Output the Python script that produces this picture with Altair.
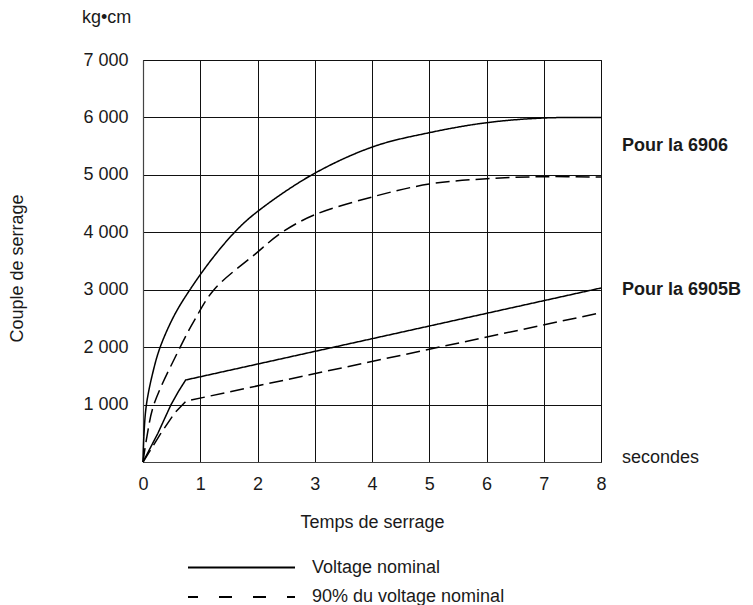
import altair as alt
import pandas as pd

# --- data ---
# Pour la 6906, voltage nominal
t_6906_nom = [0, 0.015, 0.06, 0.17, 0.30, 0.55, 0.82, 1.2, 1.6, 1.96, 2.95, 4.02, 5.0, 6.0, 7.0, 8.0]
v_6906_nom = [0, 450, 1000, 1550, 2000, 2560, 3000, 3530, 4000, 4330, 5000, 5490, 5734, 5908, 5990, 6000]
# Pour la 6906, 90% du voltage nominal
t_6906_90 = [0, 0.07, 0.19, 0.65, 0.9, 1.24, 1.96, 2.43, 2.99, 4.02, 5.0, 6.0, 7.0, 8.0]
v_6906_90 = [0, 450, 1000, 2000, 2470, 3000, 3621, 4000, 4301, 4620, 4840, 4933, 4968, 4962]
# Pour la 6905B, voltage nominal
t_6905_nom = [0, 0.26, 0.49, 0.62, 0.745, 8.0]
v_6905_nom = [0, 500, 1000, 1230, 1428, 3030]
# Pour la 6905B, 90% du voltage nominal
t_6905_90 = [0, 0.3, 0.55, 0.75, 8.0]
v_6905_90 = [0, 480, 850, 1060, 2600]

voltages = ["Voltage nominal", "90% du voltage nominal"]
models = ["Pour la 6906", "Pour la 6905B"]
model_label_v = [5500, 3000]
x_ticks = [0, 1, 2, 3, 4, 5, 6, 7, 8]
y_ticks = [1000, 2000, 3000, 4000, 5000, 6000, 7000]

FONT = "Liberation Sans"
INK = "#1a1a1a"


def frame(ts, vs, series, voltage):
    return pd.DataFrame({"t": ts, "v": vs, "series": series, "voltage": voltage})


smooth = pd.concat([
    frame(t_6906_nom, v_6906_nom, "6906 nom", voltages[0]),
    frame(t_6906_90, v_6906_90, "6906 90", voltages[1]),
])
kinked = pd.concat([
    frame(t_6905_nom, v_6905_nom, "6905 nom", voltages[0]),
    frame(t_6905_90, v_6905_90, "6905 90", voltages[1]),
])

x_enc = alt.X(
    "t:Q",
    scale=alt.Scale(domain=[0, 8], nice=False, zero=False),
    axis=alt.Axis(
        values=x_ticks, title="Temps de serrage", labelPadding=13,
        titleX=229, titleY=60, titleBaseline="middle", titleAlign="center",
        labelFlush=False,
    ),
)
y_enc = alt.Y(
    "v:Q",
    scale=alt.Scale(domain=[0, 7000], nice=False),
    axis=alt.Axis(
        values=y_ticks, title="Couple de serrage", labelPadding=15,
        labelExpr="replace(format(datum.value, ','), ',', ' ')",
        titleX=-126, titleY=208, titleAngle=270, titleBaseline="middle",
        titleAlign="center",
    ),
)
dash = alt.StrokeDash(
    "voltage:N",
    scale=alt.Scale(domain=voltages, range=[[1, 0], [14, 6]]),
    legend=None,
)

lines_smooth = alt.Chart(smooth).mark_line(
    interpolate="catmull-rom", color="black", strokeWidth=1.5
).encode(x=x_enc, y=y_enc, strokeDash=dash, detail="series:N")

lines_kinked = alt.Chart(kinked).mark_line(
    interpolate="linear", color="black", strokeWidth=1.5
).encode(x=x_enc, y=y_enc, strokeDash=dash, detail="series:N")

model_df = pd.DataFrame({"label": models, "t": [8, 8], "v": model_label_v})
model_text = alt.Chart(model_df).mark_text(
    align="left", baseline="middle", dx=21, font=FONT, fontSize=18,
    fontWeight="bold", color=INK,
).encode(x=x_enc, y=y_enc, text="label:N")

sec_df = pd.DataFrame({"label": ["secondes"], "t": [8], "v": [0]})
sec_text = alt.Chart(sec_df).mark_text(
    align="left", baseline="alphabetic", dx=21, dy=1, font=FONT, fontSize=18,
    color=INK,
).encode(x=x_enc, y=y_enc, text="label:N")

unit_df = pd.DataFrame({"label": ["kg•cm"], "t": [0], "v": [7000]})
unit_text = alt.Chart(unit_df).mark_text(
    align="left", baseline="alphabetic", dx=-61, dy=-37, font=FONT,
    fontSize=18, color=INK,
).encode(x=x_enc, y=y_enc, text="label:N")

# --- hand-drawn legend below the chart ---
leg1 = pd.DataFrame({"label": [voltages[0]]})
leg2 = pd.DataFrame({"label": [voltages[1]]})
leg_rule1 = alt.Chart(leg1).mark_rule(color="black", strokeWidth=2).encode(
    x=alt.value(45), x2=alt.value(152), y=alt.value(507.5)
)
leg_rule2 = alt.Chart(leg2).mark_rule(
    color="black", strokeWidth=2, strokeDash=[13, 21], strokeDashOffset=3
).encode(x=alt.value(45), x2=alt.value(152), y=alt.value(537))
leg_text1 = alt.Chart(leg1).mark_text(
    align="left", baseline="middle", font=FONT, fontSize=18, color=INK
).encode(x=alt.value(169), y=alt.value(507.5), text="label:N")
leg_text2 = alt.Chart(leg2).mark_text(
    align="left", baseline="middle", font=FONT, fontSize=18, color=INK
).encode(x=alt.value(169), y=alt.value(537), text="label:N")

chart = alt.layer(
    lines_smooth, lines_kinked, model_text, sec_text, unit_text,
    leg_rule1, leg_rule2, leg_text1, leg_text2,
).properties(
    width=458, height=402,
    padding={"left": 135, "top": 52, "right": 144, "bottom": 166},
    autosize=alt.AutoSizeParams(type="none"),
    background="white",
).configure_axis(
    domainColor="#444", domainWidth=1.2, gridColor="#111", gridOpacity=1,
    gridWidth=1, ticks=False, labelFont=FONT, labelFontSize=18,
    labelColor=INK, titleFont=FONT, titleFontSize=18, titleFontWeight="normal",
    titleColor=INK,
).configure_view(stroke="#111", strokeWidth=1)

chart.save("out.html", embed_options={"renderer": "svg", "actions": False})
